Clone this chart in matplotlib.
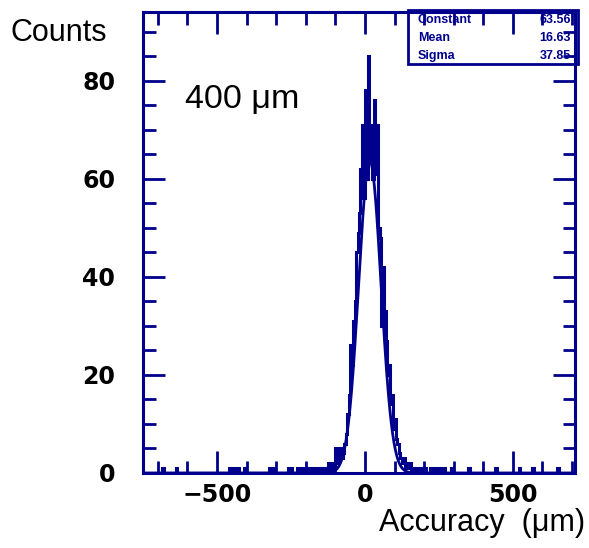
import numpy as np
import matplotlib
matplotlib.use("Agg")
import matplotlib.pyplot as plt
from matplotlib.ticker import MultipleLocator, FuncFormatter
from matplotlib.patches import Rectangle

# ---------------- data ----------------
bin_width = 5
x_min, x_max = -750, 710
core_start = -150
core_counts = [1, 0, 1, 0, 1, 2, 0, 1, 2, 1,
               5, 2, 3, 5, 3, 4, 6, 8, 12, 16,
               26, 22, 31, 35, 45, 49, 53, 62, 71, 56,
               78, 60, 85, 64, 71, 60, 76, 61, 71, 50,
               48, 30, 42, 33, 27, 20, 22, 14, 16, 9,
               11, 7, 6, 4, 3, 2, 3, 1, 2, 1,
               2, 0, 1, 0]
outlier_edges = [-685, -640, -460, -445, -430, -410, -325, -310, -260, -250,
                 -230, -215, -200, -190, -180, -170, -160,
                 175, 185, 200, 220, 235, 250, 265, 290, 350, 440, 520, 565, 650]
fit_constant = 63.56
fit_mean = 16.63
fit_sigma = 37.85
stat_names = ["Constant", "Mean", "Sigma"]
stat_values = ["63.56", "16.63", "37.85"]
x_label = "Accuracy  (\u03bcm)"
y_label = "Counts"
annotation = "400 \u03bcm"

# ---------------- build histogram ----------------
edges = np.arange(x_min, x_max + bin_width, bin_width)
counts = np.zeros(len(edges) - 1)
for i, c in enumerate(core_counts):
    idx = int((core_start + i * bin_width - x_min) // bin_width)
    counts[idx] = c
for e in outlier_edges:
    idx = int((e - x_min) // bin_width)
    counts[idx] = max(counts[idx], 1)

navy = "#00008c"
W, H = 589, 548
plt.rcParams['font.family'] = ['Liberation Sans', 'DejaVu Sans']
fig = plt.figure(figsize=(W / 100, H / 100), dpi=100)

L, R, T, B = 143, 575, 12, 473
ax = fig.add_axes([L / W, 1 - B / H, (R - L) / W, (B - T) / H])

ax.stairs(counts, edges, color=navy, linewidth=2.2)
xf = np.linspace(x_min, x_max, 2000)
yf = fit_constant * np.exp(-0.5 * ((xf - fit_mean) / fit_sigma) ** 2)
ax.plot(xf, yf, color=navy, linewidth=2.0)

ax.set_xlim(x_min, x_max)
ax.set_ylim(0, 94)
ax.xaxis.set_major_locator(MultipleLocator(500))
ax.xaxis.set_minor_locator(MultipleLocator(100))
ax.yaxis.set_major_locator(MultipleLocator(20))
ax.yaxis.set_minor_locator(MultipleLocator(5))
ax.xaxis.set_major_formatter(FuncFormatter(
    lambda v, p: ("\u2212" if v < 0 else "") + "%d" % abs(v)))
ax.yaxis.set_major_formatter(FuncFormatter(lambda v, p: "%d" % v))
ax.tick_params(which='both', direction='in', top=True, right=True,
               color=navy, width=2.0, labelsize=17)
ax.tick_params(which='major', length=16)
ax.tick_params(which='minor', length=9)
ax.tick_params(axis='y', which='major', pad=20)
ax.tick_params(axis='x', which='major', pad=7)
for lab in ax.get_xticklabels() + ax.get_yticklabels():
    lab.set_fontweight('bold')
    lab.set_family('DejaVu Sans')
for s in ax.spines.values():
    s.set_color(navy)
    s.set_linewidth(2.2)

fig.text(10 / W, 1 - 33 / H, y_label, fontsize=22, ha='left', va='center')
fig.text(585 / W, 1 - 523 / H, x_label, fontsize=22, ha='right', va='center')
fig.text(185 / W, 1 - 100 / H, annotation, fontsize=24.5, ha='left', va='center')

# stats box
bx0, by0, bx1, by1 = 408, 10, 578, 64
fig.patches.append(Rectangle((bx0 / W, 1 - by1 / H), (bx1 - bx0) / W, (by1 - by0) / H,
                             transform=fig.transFigure, fill=False,
                             edgecolor=navy, linewidth=2.0))
rows_y = [20, 38, 56]
for name, val, yy in zip(stat_names, stat_values, rows_y):
    fig.text(418 / W, 1 - yy / H, name, fontsize=9, fontweight='bold',
             color=navy, ha='left', va='center')
    fig.text(571 / W, 1 - yy / H, val, fontsize=9, fontweight='bold',
             color=navy, ha='right', va='center')

fig.savefig("out.png", dpi=100)
